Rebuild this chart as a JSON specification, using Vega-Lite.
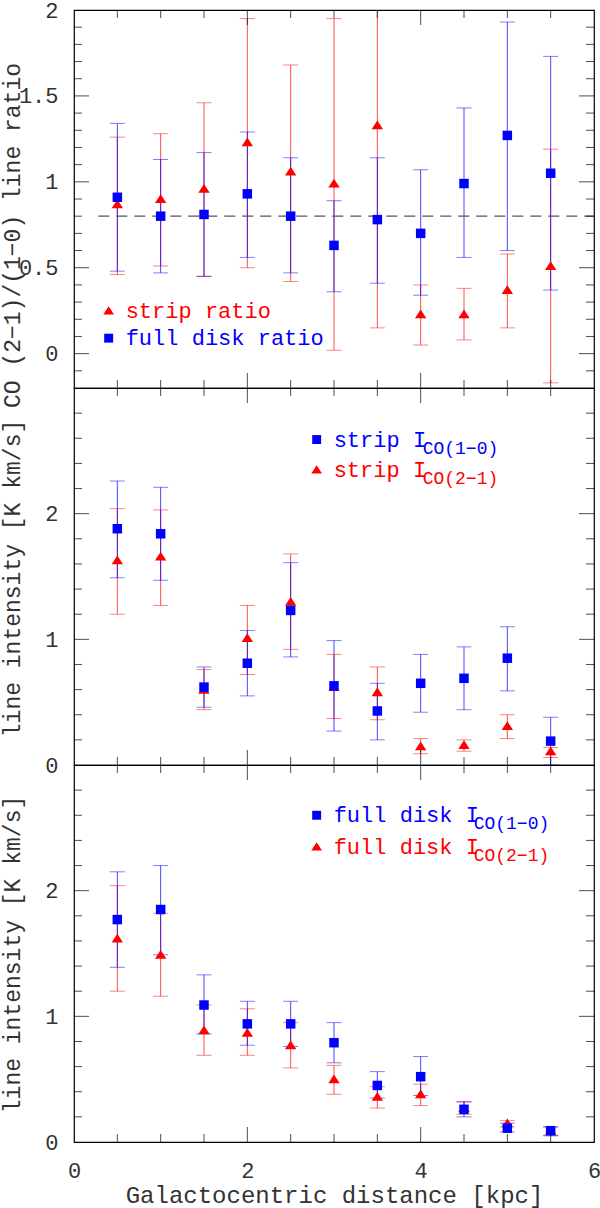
{
  "$schema": "https://vega.github.io/schema/vega-lite/v6.json",
  "padding": {"left": 0, "top": -2, "right": 0, "bottom": 0},
  "background": "white",
  "spacing": 0,
  "bounds": "flush",
  "config": {
    "view": {"stroke": "black", "strokeWidth": 1.2},
    "axis": {
      "grid": false,
      "domain": false,
      "ticks": false,
      "labelOverlap": false,
      "labelFlush": false,
      "labelFont": "Liberation Mono",
      "labelFontSize": 22,
      "labelColor": "#333",
      "titleFont": "Liberation Mono",
      "titleFontSize": 23,
      "titleFontWeight": "normal",
      "titleColor": "#333"
    },
    "tick": {"thickness": 1}
  },
  "datasets": {
    "ratio": [
      {"d": 0.5, "s": "strip ratio", "v": 0.87, "lo": 0.46, "hi": 1.26},
      {"d": 1.0, "s": "strip ratio", "v": 0.90, "lo": 0.51, "hi": 1.28},
      {"d": 1.5, "s": "strip ratio", "v": 0.96, "lo": 0.45, "hi": 1.46},
      {"d": 2.0, "s": "strip ratio", "v": 1.23, "lo": 0.50, "hi": 1.95},
      {"d": 2.5, "s": "strip ratio", "v": 1.06, "lo": 0.42, "hi": 1.68},
      {"d": 3.0, "s": "strip ratio", "v": 0.99, "lo": 0.02, "hi": 1.95},
      {"d": 3.5, "s": "strip ratio", "v": 1.33, "lo": 0.15, "hi": 2.6},
      {"d": 4.0, "s": "strip ratio", "v": 0.23, "lo": 0.05, "hi": 0.40},
      {"d": 4.5, "s": "strip ratio", "v": 0.23, "lo": 0.08, "hi": 0.38},
      {"d": 5.0, "s": "strip ratio", "v": 0.37, "lo": 0.15, "hi": 0.58},
      {"d": 5.5, "s": "strip ratio", "v": 0.51, "lo": -0.17, "hi": 1.19},
      {"d": 0.5, "s": "full disk ratio", "v": 0.91, "lo": 0.48, "hi": 1.34},
      {"d": 1.0, "s": "full disk ratio", "v": 0.80, "lo": 0.47, "hi": 1.13},
      {"d": 1.5, "s": "full disk ratio", "v": 0.81, "lo": 0.45, "hi": 1.17},
      {"d": 2.0, "s": "full disk ratio", "v": 0.93, "lo": 0.56, "hi": 1.29},
      {"d": 2.5, "s": "full disk ratio", "v": 0.80, "lo": 0.47, "hi": 1.14},
      {"d": 3.0, "s": "full disk ratio", "v": 0.63, "lo": 0.36, "hi": 0.89},
      {"d": 3.5, "s": "full disk ratio", "v": 0.78, "lo": 0.41, "hi": 1.14},
      {"d": 4.0, "s": "full disk ratio", "v": 0.70, "lo": 0.34, "hi": 1.07},
      {"d": 4.5, "s": "full disk ratio", "v": 0.99, "lo": 0.56, "hi": 1.43},
      {"d": 5.0, "s": "full disk ratio", "v": 1.27, "lo": 0.60, "hi": 1.93},
      {"d": 5.5, "s": "full disk ratio", "v": 1.05, "lo": 0.37, "hi": 1.73}
    ],
    "strip": [
      {"d": 0.5, "s": "strip CO(2-1)", "v": 1.63, "lo": 1.20, "hi": 2.04},
      {"d": 1.0, "s": "strip CO(2-1)", "v": 1.66, "lo": 1.27, "hi": 2.03},
      {"d": 1.5, "s": "strip CO(2-1)", "v": 0.60, "lo": 0.44, "hi": 0.76},
      {"d": 2.0, "s": "strip CO(2-1)", "v": 1.01, "lo": 0.72, "hi": 1.27},
      {"d": 2.5, "s": "strip CO(2-1)", "v": 1.30, "lo": 0.92, "hi": 1.68},
      {"d": 3.0, "s": "strip CO(2-1)", "v": 0.62, "lo": 0.37, "hi": 0.88},
      {"d": 3.5, "s": "strip CO(2-1)", "v": 0.58, "lo": 0.36, "hi": 0.78},
      {"d": 4.0, "s": "strip CO(2-1)", "v": 0.15, "lo": 0.09, "hi": 0.21},
      {"d": 4.5, "s": "strip CO(2-1)", "v": 0.16, "lo": 0.11, "hi": 0.20},
      {"d": 5.0, "s": "strip CO(2-1)", "v": 0.31, "lo": 0.21, "hi": 0.40},
      {"d": 5.5, "s": "strip CO(2-1)", "v": 0.11, "lo": 0.06, "hi": 0.14},
      {"d": 0.5, "s": "strip CO(1-0)", "v": 1.88, "lo": 1.49, "hi": 2.26},
      {"d": 1.0, "s": "strip CO(1-0)", "v": 1.84, "lo": 1.47, "hi": 2.21},
      {"d": 1.5, "s": "strip CO(1-0)", "v": 0.62, "lo": 0.46, "hi": 0.78},
      {"d": 2.0, "s": "strip CO(1-0)", "v": 0.81, "lo": 0.55, "hi": 1.07},
      {"d": 2.5, "s": "strip CO(1-0)", "v": 1.23, "lo": 0.86, "hi": 1.61},
      {"d": 3.0, "s": "strip CO(1-0)", "v": 0.63, "lo": 0.27, "hi": 0.99},
      {"d": 3.5, "s": "strip CO(1-0)", "v": 0.43, "lo": 0.20, "hi": 0.65},
      {"d": 4.0, "s": "strip CO(1-0)", "v": 0.65, "lo": 0.42, "hi": 0.88},
      {"d": 4.5, "s": "strip CO(1-0)", "v": 0.69, "lo": 0.44, "hi": 0.94},
      {"d": 5.0, "s": "strip CO(1-0)", "v": 0.85, "lo": 0.59, "hi": 1.10},
      {"d": 5.5, "s": "strip CO(1-0)", "v": 0.19, "lo": 0.0, "hi": 0.38}
    ],
    "full": [
      {"d": 0.5, "s": "full disk CO(2-1)", "v": 1.62, "lo": 1.20, "hi": 2.04},
      {"d": 1.0, "s": "full disk CO(2-1)", "v": 1.49, "lo": 1.16, "hi": 1.82},
      {"d": 1.5, "s": "full disk CO(2-1)", "v": 0.89, "lo": 0.69, "hi": 1.09},
      {"d": 2.0, "s": "full disk CO(2-1)", "v": 0.87, "lo": 0.69, "hi": 1.06},
      {"d": 2.5, "s": "full disk CO(2-1)", "v": 0.77, "lo": 0.59, "hi": 0.95},
      {"d": 3.0, "s": "full disk CO(2-1)", "v": 0.50, "lo": 0.38, "hi": 0.61},
      {"d": 3.5, "s": "full disk CO(2-1)", "v": 0.36, "lo": 0.27, "hi": 0.44},
      {"d": 4.0, "s": "full disk CO(2-1)", "v": 0.38, "lo": 0.29, "hi": 0.46},
      {"d": 4.5, "s": "full disk CO(2-1)", "v": 0.27, "lo": 0.22, "hi": 0.32},
      {"d": 5.0, "s": "full disk CO(2-1)", "v": 0.15, "lo": 0.12, "hi": 0.17},
      {"d": 5.5, "s": "full disk CO(2-1)", "v": 0.09, "lo": 0.05, "hi": 0.12},
      {"d": 0.5, "s": "full disk CO(1-0)", "v": 1.77, "lo": 1.39, "hi": 2.15},
      {"d": 1.0, "s": "full disk CO(1-0)", "v": 1.85, "lo": 1.49, "hi": 2.20},
      {"d": 1.5, "s": "full disk CO(1-0)", "v": 1.09, "lo": 0.86, "hi": 1.33},
      {"d": 2.0, "s": "full disk CO(1-0)", "v": 0.94, "lo": 0.77, "hi": 1.12},
      {"d": 2.5, "s": "full disk CO(1-0)", "v": 0.94, "lo": 0.76, "hi": 1.12},
      {"d": 3.0, "s": "full disk CO(1-0)", "v": 0.79, "lo": 0.63, "hi": 0.95},
      {"d": 3.5, "s": "full disk CO(1-0)", "v": 0.45, "lo": 0.35, "hi": 0.56},
      {"d": 4.0, "s": "full disk CO(1-0)", "v": 0.52, "lo": 0.37, "hi": 0.68},
      {"d": 4.5, "s": "full disk CO(1-0)", "v": 0.26, "lo": 0.20, "hi": 0.32},
      {"d": 5.0, "s": "full disk CO(1-0)", "v": 0.11, "lo": 0.08, "hi": 0.15},
      {"d": 5.5, "s": "full disk CO(1-0)", "v": 0.09, "lo": 0.05, "hi": 0.12}
    ],
    "legRatio": [
      {"d": 0.4, "v": 0.25, "s": "strip ratio", "t": "strip ratio"},
      {"d": 0.4, "v": 0.09, "s": "full disk ratio", "t": "full disk ratio"}
    ],
    "legStrip": [
      {"d": 2.8, "v": 2.59, "s": "strip CO(1-0)", "t": "strip I", "sub": "CO(1−0)"},
      {"d": 2.8, "v": 2.35, "s": "strip CO(2-1)", "t": "strip I", "sub": "CO(2−1)"}
    ],
    "legFull": [
      {"d": 2.8, "v": 2.6, "s": "full disk CO(1-0)", "t": "full disk I", "sub": "CO(1−0)"},
      {"d": 2.8, "v": 2.35, "s": "full disk CO(2-1)", "t": "full disk I", "sub": "CO(2−1)"}
    ],
    "xMaj": [{"d": 2}, {"d": 4}],
    "xMin": [{"d": 0.5}, {"d": 1}, {"d": 1.5}, {"d": 2.5}, {"d": 3}, {"d": 3.5}, {"d": 4.5}, {"d": 5}, {"d": 5.5}],
    "yMajR": [{"v": 0}, {"v": 0.5}, {"v": 1}, {"v": 1.5}],
    "yMinR": [{"v": -0.1}, {"v": 0.1}, {"v": 0.2}, {"v": 0.3}, {"v": 0.4}, {"v": 0.6}, {"v": 0.7}, {"v": 0.8}, {"v": 0.9}, {"v": 1.1}, {"v": 1.2}, {"v": 1.3}, {"v": 1.4}, {"v": 1.6}, {"v": 1.7}, {"v": 1.8}, {"v": 1.9}],
    "yMajI": [{"v": 1}, {"v": 2}],
    "yMinI": [{"v": 0.2}, {"v": 0.4}, {"v": 0.6}, {"v": 0.8}, {"v": 1.2}, {"v": 1.4}, {"v": 1.6}, {"v": 1.8}, {"v": 2.2}, {"v": 2.4}, {"v": 2.6}, {"v": 2.8}],
    "one": [{}]
  },
  "vconcat": [
    {
      "width": 520,
      "height": 378,
      "resolve": {"axis": {"x": "independent", "y": "independent"}},
      "layer": [
        {
          "data": {"name": "ratio"},
          "mark": {"type": "rule", "strokeWidth": 1, "clip": true},
          "encoding": {
            "x": {"field": "d", "type": "quantitative", "scale": {"domain": [0, 6], "nice": false, "zero": false},
              "axis": {"orient": "bottom", "values": [0, 2, 4, 6], "labels": false, "title": null}},
            "y": {"field": "lo", "type": "quantitative", "scale": {"domain": [-0.2, 2], "nice": false, "zero": false},
              "axis": {"orient": "left", "values": [0, 0.5, 1, 1.5, 2],
                "labelExpr": "format(datum.value, '~g')", "labelPadding": 16,
                "title": "CO (2−1)/(1−0) line ratio",
                "titleX": -62, "titleY": 225, "titleAngle": -90, "titleBaseline": "middle", "titleAlign": "center"}},
            "y2": {"field": "hi"},
            "color": {"field": "s", "type": "nominal", "legend": null,
              "scale": {"domain": ["strip ratio", "full disk ratio", "strip CO(2-1)", "strip CO(1-0)", "full disk CO(2-1)", "full disk CO(1-0)"],
                "range": ["rgba(255,0,0,0.7)", "rgba(0,0,255,0.72)", "rgba(255,0,0,0.7)", "rgba(0,0,255,0.72)", "rgba(255,0,0,0.7)", "rgba(0,0,255,0.72)"]}}
          }
        },
        {
          "data": {"name": "ratio"},
          "mark": {"type": "tick", "orient": "horizontal", "size": 15, "clip": true},
          "encoding": {
            "x": {"field": "d", "type": "quantitative", "scale": {"domain": [0, 6], "nice": false, "zero": false}, "axis": null},
            "y": {"field": "lo", "type": "quantitative", "scale": {"domain": [-0.2, 2], "nice": false, "zero": false}, "axis": null},
            "color": {"field": "s", "type": "nominal", "legend": null}
          }
        },
        {
          "data": {"name": "ratio"},
          "mark": {"type": "tick", "orient": "horizontal", "size": 15, "clip": true},
          "encoding": {
            "x": {"field": "d", "type": "quantitative", "scale": {"domain": [0, 6], "nice": false, "zero": false}, "axis": null},
            "y": {"field": "hi", "type": "quantitative", "scale": {"domain": [-0.2, 2], "nice": false, "zero": false}, "axis": null},
            "color": {"field": "s", "type": "nominal", "legend": null}
          }
        },
        {
          "data": {"name": "one"},
          "mark": {"type": "rule", "strokeDash": [11, 7], "color": "#555", "strokeWidth": 1.2},
          "encoding": {
            "x": {"datum": 0.28, "type": "quantitative", "scale": {"domain": [0, 6], "nice": false, "zero": false}, "axis": null},
            "x2": {"datum": 6},
            "y": {"datum": 0.8, "type": "quantitative", "scale": {"domain": [-0.2, 2], "nice": false, "zero": false}, "axis": null}
          }
        },
        {
          "data": {"name": "yMajR"},
          "mark": {"type": "tick", "orient": "horizontal", "size": 15, "xOffset": 7.5, "color": "black"},
          "encoding": {
            "x": {"datum": 0, "type": "quantitative", "scale": {"domain": [0, 6], "nice": false, "zero": false}, "axis": null},
            "y": {"field": "v", "type": "quantitative", "scale": {"domain": [-0.2, 2], "nice": false, "zero": false}, "axis": null}
          }
        },
        {
          "data": {"name": "yMajR"},
          "mark": {"type": "tick", "orient": "horizontal", "size": 15, "xOffset": -7.5, "color": "black"},
          "encoding": {
            "x": {"datum": 6, "type": "quantitative", "scale": {"domain": [0, 6], "nice": false, "zero": false}, "axis": null},
            "y": {"field": "v", "type": "quantitative", "scale": {"domain": [-0.2, 2], "nice": false, "zero": false}, "axis": null}
          }
        },
        {
          "data": {"name": "yMinR"},
          "mark": {"type": "tick", "orient": "horizontal", "size": 8, "xOffset": 4, "color": "black"},
          "encoding": {
            "x": {"datum": 0, "type": "quantitative", "scale": {"domain": [0, 6], "nice": false, "zero": false}, "axis": null},
            "y": {"field": "v", "type": "quantitative", "scale": {"domain": [-0.2, 2], "nice": false, "zero": false}, "axis": null}
          }
        },
        {
          "data": {"name": "yMinR"},
          "mark": {"type": "tick", "orient": "horizontal", "size": 8, "xOffset": -4, "color": "black"},
          "encoding": {
            "x": {"datum": 6, "type": "quantitative", "scale": {"domain": [0, 6], "nice": false, "zero": false}, "axis": null},
            "y": {"field": "v", "type": "quantitative", "scale": {"domain": [-0.2, 2], "nice": false, "zero": false}, "axis": null}
          }
        },
        {
          "data": {"name": "xMaj"},
          "mark": {"type": "tick", "orient": "vertical", "size": 15, "yOffset": -7.5, "color": "black"},
          "encoding": {
            "x": {"field": "d", "type": "quantitative", "scale": {"domain": [0, 6], "nice": false, "zero": false}, "axis": null},
            "y": {"datum": -0.2, "type": "quantitative", "scale": {"domain": [-0.2, 2], "nice": false, "zero": false}, "axis": null}
          }
        },
        {
          "data": {"name": "xMaj"},
          "mark": {"type": "tick", "orient": "vertical", "size": 15, "yOffset": 7.5, "color": "black"},
          "encoding": {
            "x": {"field": "d", "type": "quantitative", "scale": {"domain": [0, 6], "nice": false, "zero": false}, "axis": null},
            "y": {"datum": 2, "type": "quantitative", "scale": {"domain": [-0.2, 2], "nice": false, "zero": false}, "axis": null}
          }
        },
        {
          "data": {"name": "xMin"},
          "mark": {"type": "tick", "orient": "vertical", "size": 8, "yOffset": -4, "color": "black"},
          "encoding": {
            "x": {"field": "d", "type": "quantitative", "scale": {"domain": [0, 6], "nice": false, "zero": false}, "axis": null},
            "y": {"datum": -0.2, "type": "quantitative", "scale": {"domain": [-0.2, 2], "nice": false, "zero": false}, "axis": null}
          }
        },
        {
          "data": {"name": "xMin"},
          "mark": {"type": "tick", "orient": "vertical", "size": 8, "yOffset": 4, "color": "black"},
          "encoding": {
            "x": {"field": "d", "type": "quantitative", "scale": {"domain": [0, 6], "nice": false, "zero": false}, "axis": null},
            "y": {"datum": 2, "type": "quantitative", "scale": {"domain": [-0.2, 2], "nice": false, "zero": false}, "axis": null}
          }
        },
        {
          "data": {"name": "ratio"},
          "mark": {"type": "point", "filled": true, "opacity": 1, "size": 90, "strokeWidth": 0},
          "encoding": {
            "x": {"field": "d", "type": "quantitative", "scale": {"domain": [0, 6], "nice": false, "zero": false}, "axis": null},
            "y": {"field": "v", "type": "quantitative", "scale": {"domain": [-0.2, 2], "nice": false, "zero": false}, "axis": null},
            "fill": {"field": "s", "type": "nominal", "legend": null,
              "scale": {"domain": ["strip ratio", "full disk ratio", "strip CO(2-1)", "strip CO(1-0)", "full disk CO(2-1)", "full disk CO(1-0)"],
                "range": ["#ff0000", "#0000ff", "#ff0000", "#0000ff", "#ff0000", "#0000ff"]}},
            "shape": {"field": "s", "type": "nominal", "legend": null,
              "scale": {"domain": ["strip ratio", "full disk ratio", "strip CO(2-1)", "strip CO(1-0)", "full disk CO(2-1)", "full disk CO(1-0)"],
                "range": ["M0,-1L1.2,0.85L-1.2,0.85Z", "M-1,-1H1V1H-1Z", "M0,-1L1.2,0.85L-1.2,0.85Z", "M-1,-1H1V1H-1Z", "M0,-1L1.2,0.85L-1.2,0.85Z", "M-1,-1H1V1H-1Z"]}}
          }
        },
        {
          "data": {"name": "legRatio"},
          "mark": {"type": "point", "filled": true, "opacity": 1, "size": 80, "strokeWidth": 0},
          "encoding": {
            "x": {"field": "d", "type": "quantitative", "scale": {"domain": [0, 6], "nice": false, "zero": false}, "axis": null},
            "y": {"field": "v", "type": "quantitative", "scale": {"domain": [-0.2, 2], "nice": false, "zero": false}, "axis": null},
            "fill": {"field": "s", "type": "nominal", "legend": null},
            "shape": {"field": "s", "type": "nominal", "legend": null}
          }
        },
        {
          "data": {"name": "legRatio"},
          "mark": {"type": "text", "align": "left", "baseline": "middle", "dx": 17, "font": "Liberation Mono", "fontSize": 22},
          "encoding": {
            "x": {"field": "d", "type": "quantitative", "scale": {"domain": [0, 6], "nice": false, "zero": false}, "axis": null},
            "y": {"field": "v", "type": "quantitative", "scale": {"domain": [-0.2, 2], "nice": false, "zero": false}, "axis": null},
            "text": {"field": "t"},
            "fill": {"field": "s", "type": "nominal", "legend": null}
          }
        }
      ]
    },
    {
      "width": 520,
      "height": 377,
      "resolve": {"axis": {"x": "independent", "y": "independent"}},
      "layer": [
        {
          "data": {"name": "strip"},
          "mark": {"type": "rule", "strokeWidth": 1, "clip": true},
          "encoding": {
            "x": {"field": "d", "type": "quantitative", "scale": {"domain": [0, 6], "nice": false, "zero": false},
              "axis": {"orient": "bottom", "values": [0, 2, 4, 6], "labels": false, "title": null}},
            "y": {"field": "lo", "type": "quantitative", "scale": {"domain": [0, 3], "nice": false, "zero": false},
              "axis": {"orient": "left", "values": [0, 1, 2],
                "labelExpr": "format(datum.value, '~g')", "labelPadding": 16,
                "title": "line intensity [K km/s]",
                "titleX": -62, "titleY": 190, "titleAngle": -90, "titleBaseline": "middle", "titleAlign": "center"}},
            "y2": {"field": "hi"},
            "color": {"field": "s", "type": "nominal", "legend": null}
          }
        },
        {
          "data": {"name": "strip"},
          "mark": {"type": "tick", "orient": "horizontal", "size": 15, "clip": true},
          "encoding": {
            "x": {"field": "d", "type": "quantitative", "scale": {"domain": [0, 6], "nice": false, "zero": false}, "axis": null},
            "y": {"field": "lo", "type": "quantitative", "scale": {"domain": [0, 3], "nice": false, "zero": false}, "axis": null},
            "color": {"field": "s", "type": "nominal", "legend": null}
          }
        },
        {
          "data": {"name": "strip"},
          "mark": {"type": "tick", "orient": "horizontal", "size": 15, "clip": true},
          "encoding": {
            "x": {"field": "d", "type": "quantitative", "scale": {"domain": [0, 6], "nice": false, "zero": false}, "axis": null},
            "y": {"field": "hi", "type": "quantitative", "scale": {"domain": [0, 3], "nice": false, "zero": false}, "axis": null},
            "color": {"field": "s", "type": "nominal", "legend": null}
          }
        },
        {
          "data": {"name": "yMajI"},
          "mark": {"type": "tick", "orient": "horizontal", "size": 15, "xOffset": 7.5, "color": "black"},
          "encoding": {
            "x": {"datum": 0, "type": "quantitative", "scale": {"domain": [0, 6], "nice": false, "zero": false}, "axis": null},
            "y": {"field": "v", "type": "quantitative", "scale": {"domain": [0, 3], "nice": false, "zero": false}, "axis": null}
          }
        },
        {
          "data": {"name": "yMajI"},
          "mark": {"type": "tick", "orient": "horizontal", "size": 15, "xOffset": -7.5, "color": "black"},
          "encoding": {
            "x": {"datum": 6, "type": "quantitative", "scale": {"domain": [0, 6], "nice": false, "zero": false}, "axis": null},
            "y": {"field": "v", "type": "quantitative", "scale": {"domain": [0, 3], "nice": false, "zero": false}, "axis": null}
          }
        },
        {
          "data": {"name": "yMinI"},
          "mark": {"type": "tick", "orient": "horizontal", "size": 8, "xOffset": 4, "color": "black"},
          "encoding": {
            "x": {"datum": 0, "type": "quantitative", "scale": {"domain": [0, 6], "nice": false, "zero": false}, "axis": null},
            "y": {"field": "v", "type": "quantitative", "scale": {"domain": [0, 3], "nice": false, "zero": false}, "axis": null}
          }
        },
        {
          "data": {"name": "yMinI"},
          "mark": {"type": "tick", "orient": "horizontal", "size": 8, "xOffset": -4, "color": "black"},
          "encoding": {
            "x": {"datum": 6, "type": "quantitative", "scale": {"domain": [0, 6], "nice": false, "zero": false}, "axis": null},
            "y": {"field": "v", "type": "quantitative", "scale": {"domain": [0, 3], "nice": false, "zero": false}, "axis": null}
          }
        },
        {
          "data": {"name": "xMaj"},
          "mark": {"type": "tick", "orient": "vertical", "size": 15, "yOffset": -7.5, "color": "black"},
          "encoding": {
            "x": {"field": "d", "type": "quantitative", "scale": {"domain": [0, 6], "nice": false, "zero": false}, "axis": null},
            "y": {"datum": 0, "type": "quantitative", "scale": {"domain": [0, 3], "nice": false, "zero": false}, "axis": null}
          }
        },
        {
          "data": {"name": "xMaj"},
          "mark": {"type": "tick", "orient": "vertical", "size": 15, "yOffset": 7.5, "color": "black"},
          "encoding": {
            "x": {"field": "d", "type": "quantitative", "scale": {"domain": [0, 6], "nice": false, "zero": false}, "axis": null},
            "y": {"datum": 3, "type": "quantitative", "scale": {"domain": [0, 3], "nice": false, "zero": false}, "axis": null}
          }
        },
        {
          "data": {"name": "xMin"},
          "mark": {"type": "tick", "orient": "vertical", "size": 8, "yOffset": -4, "color": "black"},
          "encoding": {
            "x": {"field": "d", "type": "quantitative", "scale": {"domain": [0, 6], "nice": false, "zero": false}, "axis": null},
            "y": {"datum": 0, "type": "quantitative", "scale": {"domain": [0, 3], "nice": false, "zero": false}, "axis": null}
          }
        },
        {
          "data": {"name": "xMin"},
          "mark": {"type": "tick", "orient": "vertical", "size": 8, "yOffset": 4, "color": "black"},
          "encoding": {
            "x": {"field": "d", "type": "quantitative", "scale": {"domain": [0, 6], "nice": false, "zero": false}, "axis": null},
            "y": {"datum": 3, "type": "quantitative", "scale": {"domain": [0, 3], "nice": false, "zero": false}, "axis": null}
          }
        },
        {
          "data": {"name": "strip"},
          "mark": {"type": "point", "filled": true, "opacity": 1, "size": 90, "strokeWidth": 0},
          "encoding": {
            "x": {"field": "d", "type": "quantitative", "scale": {"domain": [0, 6], "nice": false, "zero": false}, "axis": null},
            "y": {"field": "v", "type": "quantitative", "scale": {"domain": [0, 3], "nice": false, "zero": false}, "axis": null},
            "fill": {"field": "s", "type": "nominal", "legend": null},
            "shape": {"field": "s", "type": "nominal", "legend": null}
          }
        },
        {
          "data": {"name": "legStrip"},
          "mark": {"type": "point", "filled": true, "opacity": 1, "size": 80, "strokeWidth": 0},
          "encoding": {
            "x": {"field": "d", "type": "quantitative", "scale": {"domain": [0, 6], "nice": false, "zero": false}, "axis": null},
            "y": {"field": "v", "type": "quantitative", "scale": {"domain": [0, 3], "nice": false, "zero": false}, "axis": null},
            "fill": {"field": "s", "type": "nominal", "legend": null},
            "shape": {"field": "s", "type": "nominal", "legend": null}
          }
        },
        {
          "data": {"name": "legStrip"},
          "mark": {"type": "text", "align": "left", "baseline": "middle", "dx": 17, "font": "Liberation Mono", "fontSize": 22},
          "encoding": {
            "x": {"field": "d", "type": "quantitative", "scale": {"domain": [0, 6], "nice": false, "zero": false}, "axis": null},
            "y": {"field": "v", "type": "quantitative", "scale": {"domain": [0, 3], "nice": false, "zero": false}, "axis": null},
            "text": {"field": "t"},
            "fill": {"field": "s", "type": "nominal", "legend": null}
          }
        },
        {
          "data": {"name": "legStrip"},
          "mark": {"type": "text", "align": "left", "baseline": "middle", "dx": 106, "dy": 9, "font": "Liberation Mono", "fontSize": 18},
          "encoding": {
            "x": {"field": "d", "type": "quantitative", "scale": {"domain": [0, 6], "nice": false, "zero": false}, "axis": null},
            "y": {"field": "v", "type": "quantitative", "scale": {"domain": [0, 3], "nice": false, "zero": false}, "axis": null},
            "text": {"field": "sub"},
            "fill": {"field": "s", "type": "nominal", "legend": null}
          }
        }
      ]
    },
    {
      "width": 520,
      "height": 377,
      "resolve": {"axis": {"x": "independent", "y": "independent"}},
      "layer": [
        {
          "data": {"name": "full"},
          "mark": {"type": "rule", "strokeWidth": 1, "clip": true},
          "encoding": {
            "x": {"field": "d", "type": "quantitative", "scale": {"domain": [0, 6], "nice": false, "zero": false},
              "axis": {"orient": "bottom", "values": [0, 2, 4, 6],
                "labelExpr": "format(datum.value, '~g')", "labelPadding": 18,
                "title": "Galactocentric distance [kpc]", "titleFontSize": 24,
                "titleY": 53, "titleBaseline": "middle"}},
            "y": {"field": "lo", "type": "quantitative", "scale": {"domain": [0, 3], "nice": false, "zero": false},
              "axis": {"orient": "left", "values": [0, 1, 2],
                "labelExpr": "format(datum.value, '~g')", "labelPadding": 16,
                "title": "line intensity [K km/s]",
                "titleX": -62, "titleY": 189, "titleAngle": -90, "titleBaseline": "middle", "titleAlign": "center"}},
            "y2": {"field": "hi"},
            "color": {"field": "s", "type": "nominal", "legend": null}
          }
        },
        {
          "data": {"name": "full"},
          "mark": {"type": "tick", "orient": "horizontal", "size": 15, "clip": true},
          "encoding": {
            "x": {"field": "d", "type": "quantitative", "scale": {"domain": [0, 6], "nice": false, "zero": false}, "axis": null},
            "y": {"field": "lo", "type": "quantitative", "scale": {"domain": [0, 3], "nice": false, "zero": false}, "axis": null},
            "color": {"field": "s", "type": "nominal", "legend": null}
          }
        },
        {
          "data": {"name": "full"},
          "mark": {"type": "tick", "orient": "horizontal", "size": 15, "clip": true},
          "encoding": {
            "x": {"field": "d", "type": "quantitative", "scale": {"domain": [0, 6], "nice": false, "zero": false}, "axis": null},
            "y": {"field": "hi", "type": "quantitative", "scale": {"domain": [0, 3], "nice": false, "zero": false}, "axis": null},
            "color": {"field": "s", "type": "nominal", "legend": null}
          }
        },
        {
          "data": {"name": "yMajI"},
          "mark": {"type": "tick", "orient": "horizontal", "size": 15, "xOffset": 7.5, "color": "black"},
          "encoding": {
            "x": {"datum": 0, "type": "quantitative", "scale": {"domain": [0, 6], "nice": false, "zero": false}, "axis": null},
            "y": {"field": "v", "type": "quantitative", "scale": {"domain": [0, 3], "nice": false, "zero": false}, "axis": null}
          }
        },
        {
          "data": {"name": "yMajI"},
          "mark": {"type": "tick", "orient": "horizontal", "size": 15, "xOffset": -7.5, "color": "black"},
          "encoding": {
            "x": {"datum": 6, "type": "quantitative", "scale": {"domain": [0, 6], "nice": false, "zero": false}, "axis": null},
            "y": {"field": "v", "type": "quantitative", "scale": {"domain": [0, 3], "nice": false, "zero": false}, "axis": null}
          }
        },
        {
          "data": {"name": "yMinI"},
          "mark": {"type": "tick", "orient": "horizontal", "size": 8, "xOffset": 4, "color": "black"},
          "encoding": {
            "x": {"datum": 0, "type": "quantitative", "scale": {"domain": [0, 6], "nice": false, "zero": false}, "axis": null},
            "y": {"field": "v", "type": "quantitative", "scale": {"domain": [0, 3], "nice": false, "zero": false}, "axis": null}
          }
        },
        {
          "data": {"name": "yMinI"},
          "mark": {"type": "tick", "orient": "horizontal", "size": 8, "xOffset": -4, "color": "black"},
          "encoding": {
            "x": {"datum": 6, "type": "quantitative", "scale": {"domain": [0, 6], "nice": false, "zero": false}, "axis": null},
            "y": {"field": "v", "type": "quantitative", "scale": {"domain": [0, 3], "nice": false, "zero": false}, "axis": null}
          }
        },
        {
          "data": {"name": "xMaj"},
          "mark": {"type": "tick", "orient": "vertical", "size": 15, "yOffset": -7.5, "color": "black"},
          "encoding": {
            "x": {"field": "d", "type": "quantitative", "scale": {"domain": [0, 6], "nice": false, "zero": false}, "axis": null},
            "y": {"datum": 0, "type": "quantitative", "scale": {"domain": [0, 3], "nice": false, "zero": false}, "axis": null}
          }
        },
        {
          "data": {"name": "xMaj"},
          "mark": {"type": "tick", "orient": "vertical", "size": 15, "yOffset": 7.5, "color": "black"},
          "encoding": {
            "x": {"field": "d", "type": "quantitative", "scale": {"domain": [0, 6], "nice": false, "zero": false}, "axis": null},
            "y": {"datum": 3, "type": "quantitative", "scale": {"domain": [0, 3], "nice": false, "zero": false}, "axis": null}
          }
        },
        {
          "data": {"name": "xMin"},
          "mark": {"type": "tick", "orient": "vertical", "size": 8, "yOffset": -4, "color": "black"},
          "encoding": {
            "x": {"field": "d", "type": "quantitative", "scale": {"domain": [0, 6], "nice": false, "zero": false}, "axis": null},
            "y": {"datum": 0, "type": "quantitative", "scale": {"domain": [0, 3], "nice": false, "zero": false}, "axis": null}
          }
        },
        {
          "data": {"name": "xMin"},
          "mark": {"type": "tick", "orient": "vertical", "size": 8, "yOffset": 4, "color": "black"},
          "encoding": {
            "x": {"field": "d", "type": "quantitative", "scale": {"domain": [0, 6], "nice": false, "zero": false}, "axis": null},
            "y": {"datum": 3, "type": "quantitative", "scale": {"domain": [0, 3], "nice": false, "zero": false}, "axis": null}
          }
        },
        {
          "data": {"name": "full"},
          "mark": {"type": "point", "filled": true, "opacity": 1, "size": 90, "strokeWidth": 0},
          "encoding": {
            "x": {"field": "d", "type": "quantitative", "scale": {"domain": [0, 6], "nice": false, "zero": false}, "axis": null},
            "y": {"field": "v", "type": "quantitative", "scale": {"domain": [0, 3], "nice": false, "zero": false}, "axis": null},
            "fill": {"field": "s", "type": "nominal", "legend": null},
            "shape": {"field": "s", "type": "nominal", "legend": null}
          }
        },
        {
          "data": {"name": "legFull"},
          "mark": {"type": "point", "filled": true, "opacity": 1, "size": 80, "strokeWidth": 0},
          "encoding": {
            "x": {"field": "d", "type": "quantitative", "scale": {"domain": [0, 6], "nice": false, "zero": false}, "axis": null},
            "y": {"field": "v", "type": "quantitative", "scale": {"domain": [0, 3], "nice": false, "zero": false}, "axis": null},
            "fill": {"field": "s", "type": "nominal", "legend": null},
            "shape": {"field": "s", "type": "nominal", "legend": null}
          }
        },
        {
          "data": {"name": "legFull"},
          "mark": {"type": "text", "align": "left", "baseline": "middle", "dx": 17, "font": "Liberation Mono", "fontSize": 22},
          "encoding": {
            "x": {"field": "d", "type": "quantitative", "scale": {"domain": [0, 6], "nice": false, "zero": false}, "axis": null},
            "y": {"field": "v", "type": "quantitative", "scale": {"domain": [0, 3], "nice": false, "zero": false}, "axis": null},
            "text": {"field": "t"},
            "fill": {"field": "s", "type": "nominal", "legend": null}
          }
        },
        {
          "data": {"name": "legFull"},
          "mark": {"type": "text", "align": "left", "baseline": "middle", "dx": 157, "dy": 9, "font": "Liberation Mono", "fontSize": 18},
          "encoding": {
            "x": {"field": "d", "type": "quantitative", "scale": {"domain": [0, 6], "nice": false, "zero": false}, "axis": null},
            "y": {"field": "v", "type": "quantitative", "scale": {"domain": [0, 3], "nice": false, "zero": false}, "axis": null},
            "text": {"field": "sub"},
            "fill": {"field": "s", "type": "nominal", "legend": null}
          }
        }
      ]
    }
  ]
}
